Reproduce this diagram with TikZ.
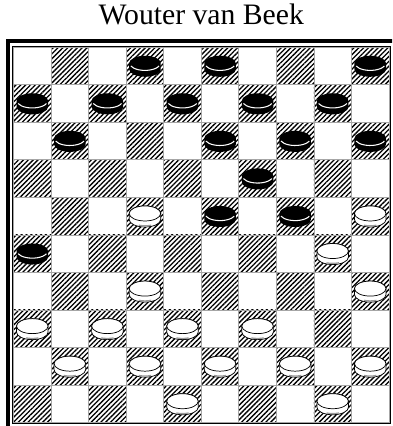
\documentclass[tikz,border=0pt]{standalone}
\usepackage{fontspec}
\setmainfont{Liberation Serif}
\usepackage{tikz}
\usetikzlibrary{patterns.meta}

\begin{document}
\begin{tikzpicture}[
  title/.style={font=\fontsize{22.5}{26}\selectfont, anchor=base, inner sep=0pt},
  dark/.style={pattern={Lines[angle=45, distance=2.6pt, line width=1pt]}},
  gridline/.style={black!35, line width=0.5pt},
  blackman/.pic={
    \fill[black] (-.42,.07) -- (-.42,-.09) arc[start angle=180, end angle=360, x radius=.42, y radius=.2]
      -- (.42,.07) arc[start angle=0, end angle=180, x radius=.42, y radius=.2] -- cycle;
    \draw[white, line width=0.8pt] (0,.06) ++(200:.4 and .18) arc[start angle=200, end angle=340, x radius=.4, y radius=.18];},
  whiteman/.pic={
    \filldraw[fill=white, draw=black, line width=0.55pt] (-.42,.07) -- (-.42,-.09) arc[start angle=180, end angle=360, x radius=.42, y radius=.2]
      -- (.42,.07) arc[start angle=0, end angle=180, x radius=.42, y radius=.2] -- cycle;
    \draw[black!40, line width=1pt] (0,-.09) ++(245:.39 and .17) arc[start angle=245, end angle=295, x radius=.39, y radius=.17];
    \filldraw[fill=white, draw=black, line width=0.55pt] (0,.07) ellipse[x radius=.42, y radius=.2];}]
\clip (-0.36,-0.09) rectangle (10.08,11.255);
\node[title] (name) at (5,10.6) {Wouter van Beek};
% board
\foreach \r in {1,...,10} {
  \pgfmathtruncatemacro{\off}{mod(\r,2)}
  \foreach \k in {0,2,4,6,8} \path[dark] (\k+\off,10-\r) rectangle ++(1,1);
}
\draw[gridline] (0,0) grid (10,10);
\draw[line width=0.7pt] (-.03,-.03) rectangle (10.03,10.03);
\draw[line width=3.2pt] (-.155,-.155) rectangle (10.155,10.155);
% pieces
\foreach \c/\r in {4/1,6/1,10/1,1/2,3/2,5/2,7/2,9/2,2/3,6/3,8/3,10/3,7/4,6/5,8/5,1/6}
  \pic at (\c-0.5,10.5-\r) {blackman};
\foreach \c/\r in {4/5,10/5,9/6,4/7,10/7,1/8,3/8,5/8,7/8,2/9,4/9,6/9,8/9,10/9,5/10,9/10}
  \pic at (\c-0.5,10.5-\r) {whiteman};
\end{tikzpicture}
\end{document}
